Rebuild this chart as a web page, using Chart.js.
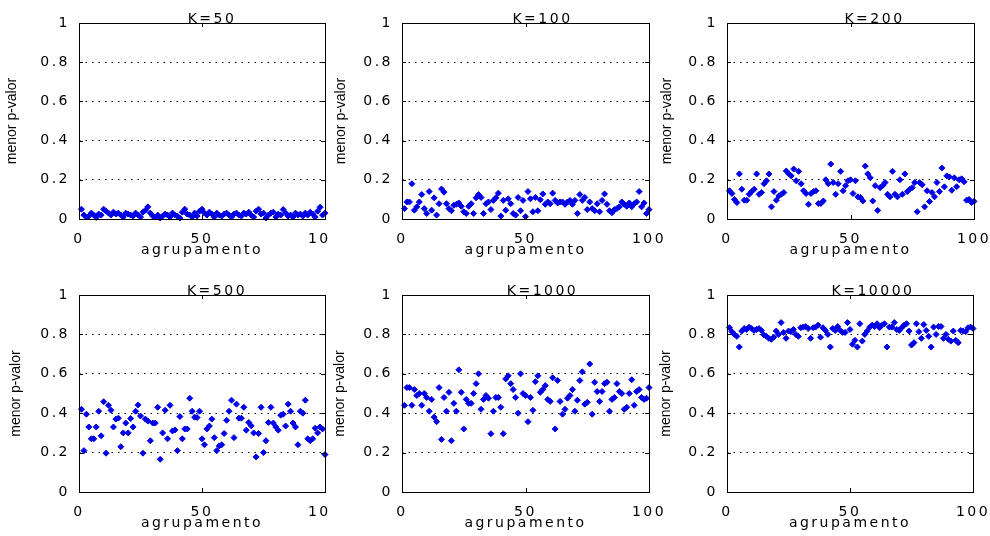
<!DOCTYPE html>
<html>
<head>
<meta charset="utf-8">
<script src="https://cdn.jsdelivr.net/npm/chart.js@4.4.1/dist/chart.umd.min.js"></script>
<style>
  html, body { margin: 0; padding: 0; background: #fff; }
  #page { position: relative; width: 990px; height: 536px; overflow: hidden; background: #fff; }
  .panel { position: absolute; }
  .panel canvas { display: block; }
</style>
</head>
<body>
<div id="page"></div>
<script>
// agrupamento index 1..100
const groups = Array.from({length: 100}, (_, i) => i + 1);

const k50 = [
  .05,.02,.01,.015,.03,.02,.008,.025,.02,.05,
  .04,.03,.02,.035,.025,.03,.02,.01,.03,.025,
  .02,.015,.03,.02,.01,.035,.045,.062,.03,.015,
  .01,.02,.005,.015,.025,.02,.01,.03,.02,.015,
  .005,.035,.05,.025,.02,.01,.03,.015,.04,.05,
  .03,.02,.035,.025,.01,.03,.02,.015,.025,.03,
  .02,.01,.025,.03,.02,.015,.03,.025,.035,.02,
  .01,.04,.05,.025,.03,.005,.02,.03,.035,.01,
  .025,.02,.048,.03,.015,.02,.01,.03,.02,.025,
  .015,.03,.02,.035,.025,.01,.04,.06,.02,.03
];
const k100 = [
  .053,.087,.087,.18,.045,.062,.087,.125,.053,.028,
  .14,.045,.108,.02,.078,.153,.137,.078,.053,.042,
  .07,.075,.082,.065,.037,.028,.065,.078,.028,.108,
  .125,.11,.028,.078,.087,.048,.095,.108,.132,.015,
  .095,.045,.103,.078,.028,.02,.11,.042,.095,.012,
  .14,.103,.037,.11,.042,.098,.128,.075,.087,.078,
  .132,.095,.082,.087,.087,.075,.087,.095,.075,.095,
  .028,.125,.095,.11,.048,.087,.053,.042,.078,.037,
  .095,.128,.075,.042,.032,.048,.053,.062,.087,.075,
  .065,.082,.062,.078,.087,.14,.062,.082,.028,.048
];
const k200 = [
  .144,.13,.10,.084,.23,.152,.096,.096,.126,.14,
  .152,.23,.126,.135,.18,.195,.23,.062,.14,.096,
  .118,.126,.135,.245,.23,.22,.255,.195,.243,.18,
  .144,.13,.075,.13,.14,.144,.079,.079,.092,.20,
  .18,.28,.186,.126,.18,.243,.144,.17,.195,.20,
  .13,.195,.113,.11,.092,.27,.23,.21,.092,.17,
  .044,.16,.17,.186,.126,.113,.243,.126,.113,.20,
  .126,.23,.14,.152,.16,.186,.037,.186,.175,.062,
  .144,.089,.135,.113,.186,.14,.26,.164,.22,.215,
  .147,.21,.165,.20,.205,.19,.096,.10,.084,.09
];
const k500 = [
  .42,.21,.395,.33,.27,.27,.33,.41,.285,.458,
  .197,.44,.415,.33,.37,.375,.23,.30,.35,.30,
  .373,.33,.41,.442,.386,.197,.37,.36,.26,.35,
  .35,.43,.166,.30,.415,.27,.44,.31,.315,.21,
  .383,.27,.32,.32,.476,.41,.38,.378,.41,.27,
  .24,.32,.335,.37,.276,.21,.234,.24,.297,.364,
  .41,.466,.276,.446,.375,.375,.43,.314,.353,.336,
  .30,.178,.297,.43,.20,.26,.353,.43,.35,.33,
  .314,.39,.395,.335,.446,.41,.35,.33,.24,.41,
  .40,.466,.27,.26,.27,.324,.30,.33,.32,.19
];
const k1000 = [
  .44,.53,.53,.44,.52,.49,.50,.44,.50,.48,
  .41,.47,.38,.357,.53,.267,.48,.41,.506,.26,
  .45,.41,.62,.506,.32,.47,.45,.45,.50,.55,
  .60,.42,.47,.49,.476,.296,.41,.48,.48,.43,
  .296,.574,.59,.55,.52,.48,.40,.60,.50,.49,
  .357,.48,.415,.56,.59,.506,.52,.54,.47,.46,
  .58,.32,.566,.46,.395,.42,.476,.49,.52,.41,
  .466,.566,.61,.446,.455,.65,.395,.557,.51,.46,
  .51,.55,.557,.41,.47,.48,.55,.51,.50,.42,
  .43,.50,.57,.44,.51,.52,.48,.47,.476,.53
];
const k10000 = [
  .834,.814,.80,.79,.736,.817,.83,.825,.837,.83,
  .82,.825,.83,.82,.797,.79,.78,.775,.786,.817,
  .80,.86,.81,.78,.817,.814,.825,.80,.79,.834,
  .837,.84,.83,.78,.834,.837,.847,.786,.834,.82,
  .80,.736,.83,.82,.84,.82,.81,.81,.86,.825,
  .75,.77,.736,.854,.766,.80,.817,.837,.847,.84,
  .854,.834,.847,.854,.736,.837,.837,.86,.825,.82,
  .834,.847,.854,.817,.746,.758,.854,.814,.78,.85,
  .82,.79,.736,.837,.80,.84,.84,.78,.80,.775,
  .766,.817,.77,.758,.82,.817,.814,.834,.837,.83
];

const titles = ['K=50', 'K=100', 'K=200', 'K=500', 'K=1000', 'K=10000'];
const series = [k50, k100, k200, k500, k1000, k10000];
const yTicks = [0, 0.2, 0.4, 0.6, 0.8, 1];
const xTicks = [0, 50, 100];

// plot area of each panel on the page: [left, top, right, bottom]
const boxes = [
  [79, 23, 325, 219], [402, 23, 649, 219], [727, 23, 974, 219],
  [79, 295, 325, 492], [402, 295, 649, 492], [727, 295, 973, 492]
];
const rightRoom = [5, 14, 16, 5, 14, 17];
const titleShift = [10, 17, 24, 15, 17, 23];
const yTitleX = [12, 18, 19.5, 16.5, 17, 18.5];

Chart.defaults.font.family = '"DejaVu Sans", sans-serif';
Chart.defaults.font.size = 14;
Chart.defaults.color = '#000';

// box, inward ticks, panel title and rotated y label, matlab style
const matlabLook = {
  id: 'matlabLook',
  beforeDraw(c){ c.ctx.letterSpacing = '2.5px'; },
  afterDraw(c, args, o){
    const {ctx, chartArea: a, scales: {x, y}} = c;
    ctx.save();
    ctx.strokeStyle = '#000'; ctx.lineWidth = 1;
    ctx.strokeRect(a.left + .5, a.top + .5, a.right - a.left, a.bottom - a.top);
    ctx.beginPath();
    x.ticks.forEach(t => {
      const px = Math.round(x.getPixelForValue(t.value)) + .5;
      ctx.moveTo(px, a.bottom); ctx.lineTo(px, a.bottom - 4);
      ctx.moveTo(px, a.top); ctx.lineTo(px, a.top + 4);
    });
    y.ticks.forEach(t => {
      const py = Math.round(y.getPixelForValue(t.value)) + .5;
      ctx.moveTo(a.left, py); ctx.lineTo(a.left + 4, py);
      ctx.moveTo(a.right, py); ctx.lineTo(a.right - 4, py);
    });
    ctx.stroke();

    ctx.fillStyle = '#000';
    ctx.font = '14px "DejaVu Sans"';
    ctx.textAlign = 'center'; ctx.textBaseline = 'alphabetic';
    ctx.fillText(o.text, (a.left + a.right) / 2 + o.shift, a.top);

    ctx.letterSpacing = '0px';
    ctx.font = '14px "Liberation Sans"';
    ctx.translate(o.yTitleX, (a.top + a.bottom) / 2);
    ctx.rotate(-Math.PI / 2);
    ctx.textBaseline = 'middle';
    ctx.fillText(o.yTitle, 0, 0);
    ctx.restore();
  }
};

const page = document.getElementById('page');

series.forEach((vals, i) => {
  const [L, T, R, B] = boxes[i];
  const w = R - L + 79 + rightRoom[i], h = B - T + 23 + 45;
  const div = document.createElement('div');
  div.className = 'panel';
  div.style.left = (L - 79) + 'px';
  div.style.top = (T - 23) + 'px';
  const cv = document.createElement('canvas');
  cv.width = w; cv.height = h;
  cv.style.width = w + 'px'; cv.style.height = h + 'px';
  div.appendChild(cv);
  page.appendChild(div);

  new Chart(cv, {
    type: 'scatter',
    data: {
      datasets: [{
        data: groups.map((g, j) => ({x: g, y: vals[j]})),
        backgroundColor: '#0000e6',
        borderColor: '#0000e6',
        pointStyle: 'rectRot',
        pointRadius: 3,
        borderWidth: 1,
        clip: false
      }]
    },
    options: {
      responsive: false,
      animation: false,
      layout: { padding: { top: 23, right: rightRoom[i], bottom: 0, left: 0 } },
      plugins: {
        legend: { display: false },
        tooltip: { enabled: false },
        matlabLook: { text: titles[i], shift: titleShift[i], yTitleX: yTitleX[i], yTitle: 'menor p-valor' }
      },
      scales: {
        x: {
          type: 'linear', min: xTicks[0], max: xTicks[xTicks.length - 1],
          afterBuildTicks: s => { s.ticks = xTicks.map(v => ({value: v})); },
          ticks: { padding: 4, maxRotation: 0, autoSkip: false, callback: v => String(v) },
          grid: { display: false },
          border: { display: false },
          title: { display: true, text: 'agrupamento', padding: { top: 0, bottom: 5 } },
          afterFit: s => { s.height = 45; s.paddingLeft = 0; s.paddingRight = 0; }
        },
        y: {
          min: yTicks[0], max: yTicks[yTicks.length - 1],
          afterBuildTicks: s => { s.ticks = yTicks.map(v => ({value: v})); },
          ticks: { padding: 9, callback: v => String(v) },
          grid: {
            drawTicks: false,
            color: c => (c.tick && c.tick.value > 0 && c.tick.value < 1) ? '#000' : 'rgba(0,0,0,0)'
          },
          border: { display: false, dash: [1.5, 5] },
          afterFit: s => { s.width = 79; s.paddingTop = 0; s.paddingBottom = 0; }
        }
      }
    },
    plugins: [matlabLook]
  });
});
</script>
</body>
</html>
